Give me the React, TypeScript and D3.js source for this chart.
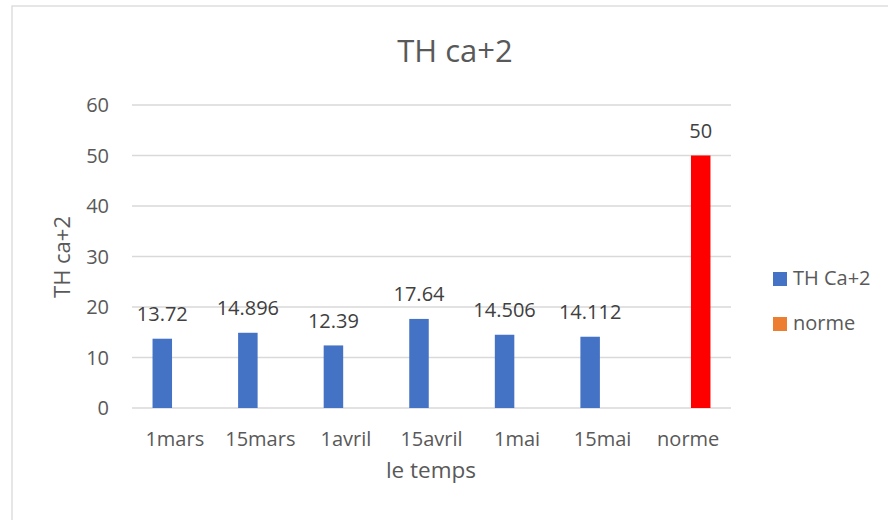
import React from 'react';
import * as d3 from 'd3';

const categories = ['1mars', '15mars', '1avril', '15avril', '1mai', '15mai', 'norme'];
const thValues = [13.72, 14.896, 12.39, 17.64, 14.506, 14.112, null];
const normeValues = [null, null, null, null, null, null, 50];
const yTicks = [0, 10, 20, 30, 40, 50, 60];
const seriesNames = ['TH Ca+2', 'norme'];

const W = 888;
const H = 520;
const font = '"Open Sans", sans-serif';
const textColor = '#595959';

const App = () => {
    const x0 = d3.scaleBand<string>().domain(categories).range([132, 731]).paddingInner(0).paddingOuter(0);
    const groupW = x0.bandwidth() * 0.52;
    const x1 = d3.scaleBand<string>().domain(seriesNames).range([0, groupW]).paddingInner(0.22);
    const y = d3.scaleLinear().domain([0, 60]).range([408, 105]);

    const series = [
        { name: seriesNames[0], values: thValues, fill: '#4472C4', legend: '#4472C4' },
        // the norme bar is painted red on the chart, legend keeps the default orange
        { name: seriesNames[1], values: normeValues, fill: '#FF0000', legend: '#ED7D31' },
    ];

    return (
        <svg width={W} height={H} style={{ position: 'fixed', left: 0, top: 0, background: '#fff' }}>
            <rect x={12} y={6} width={W} height={H} fill="#fff" stroke="#d9d9d9" strokeWidth={1.3} />

            <text x={455} y={62} textAnchor="middle" fontFamily={font} fontSize={31} fill={textColor}>TH ca+2</text>

            {yTicks.map(t => (
                <g key={t}>
                    <line x1={132} x2={731} y1={y(t)} y2={y(t)} stroke="#d9d9d9" strokeWidth={t === 0 ? 1.6 : 1.3} />
                    <text x={109} y={y(t)} dy="0.36em" textAnchor="end" fontFamily={font} fontSize={20} fill={textColor}>{t}</text>
                </g>
            ))}

            {series.map(s => (
                <g key={s.name}>
                    {categories.map((c, i) => {
                        const v = s.values[i];
                        if (v == null) return null;
                        const bx = (x0(c) as number) + (x0.bandwidth() - groupW) / 2 + (x1(s.name) as number);
                        return (
                            <g key={c}>
                                <rect x={bx} y={y(v)} width={x1.bandwidth()} height={y(0) - y(v)} fill={s.fill} />
                                <text x={bx + x1.bandwidth() / 2} y={y(v) - 17.5} textAnchor="middle" fontFamily={font} fontSize={20} fill="#404040">{v}</text>
                            </g>
                        );
                    })}
                </g>
            ))}

            {categories.map(c => (
                <text key={c} x={(x0(c) as number) + x0.bandwidth() / 2} y={446} textAnchor="middle" fontFamily={font} fontSize={20} fill={textColor}>{c}</text>
            ))}

            <text x={431} y={478} textAnchor="middle" fontFamily={font} fontSize={22.5} fill={textColor}>le temps</text>
            <text transform="translate(70,257) rotate(-90)" textAnchor="middle" fontFamily={font} fontSize={22} fill={textColor}>TH ca+2</text>

            {series.map((s, i) => (
                <g key={s.name} transform={`translate(773,${272 + i * 45})`}>
                    <rect width={14} height={14} fill={s.legend} />
                    <text x={20} y={13} fontFamily={font} fontSize={20} fill={textColor}>{s.name}</text>
                </g>
            ))}
        </svg>
    );
};

export default App;
